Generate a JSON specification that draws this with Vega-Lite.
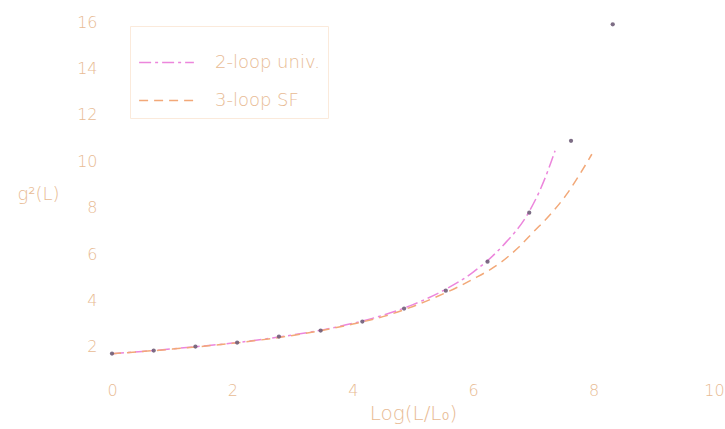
{
  "$schema": "https://vega.github.io/schema/vega-lite/v6.json",
  "width": 602,
  "height": 348,
  "autosize": "none",
  "padding": {"left": 112, "top": 22, "right": 11, "bottom": 59},
  "background": "white",
  "config": {
    "view": {"stroke": null},
    "font": "DejaVu Sans",
    "axis": {
      "grid": false,
      "domain": false,
      "ticks": false,
      "labelFlush": false,
      "labelColor": "#e8bb94",
      "labelFontSize": 16,
      "labelFont": "DejaVu Sans",
      "labelFontWeight": 200,
      "titleColor": "#e8bb94",
      "titleFont": "DejaVu Sans",
      "titleFontWeight": 200,
      "titleFontSize": 18
    }
  },
  "datasets": {
    "curves": [
      {"series": "2-loop univ.", "x": 0.0, "y": 1.70},
      {"series": "2-loop univ.", "x": 0.5, "y": 1.80},
      {"series": "2-loop univ.", "x": 1.0, "y": 1.91},
      {"series": "2-loop univ.", "x": 1.5, "y": 2.03},
      {"series": "2-loop univ.", "x": 2.0, "y": 2.16},
      {"series": "2-loop univ.", "x": 2.5, "y": 2.32},
      {"series": "2-loop univ.", "x": 3.0, "y": 2.51},
      {"series": "2-loop univ.", "x": 3.5, "y": 2.73},
      {"series": "2-loop univ.", "x": 4.0, "y": 3.01},
      {"series": "2-loop univ.", "x": 4.5, "y": 3.36},
      {"series": "2-loop univ.", "x": 5.0, "y": 3.82},
      {"series": "2-loop univ.", "x": 5.5, "y": 4.42},
      {"series": "2-loop univ.", "x": 6.0, "y": 5.22},
      {"series": "2-loop univ.", "x": 6.5, "y": 6.38},
      {"series": "2-loop univ.", "x": 6.9, "y": 7.70},
      {"series": "2-loop univ.", "x": 7.1, "y": 8.70},
      {"series": "2-loop univ.", "x": 7.25, "y": 9.65},
      {"series": "2-loop univ.", "x": 7.36, "y": 10.45},
      {"series": "3-loop SF", "x": 0.0, "y": 1.70},
      {"series": "3-loop SF", "x": 1.0, "y": 1.90},
      {"series": "3-loop SF", "x": 2.0, "y": 2.15},
      {"series": "3-loop SF", "x": 3.0, "y": 2.49},
      {"series": "3-loop SF", "x": 4.0, "y": 2.98},
      {"series": "3-loop SF", "x": 4.5, "y": 3.30},
      {"series": "3-loop SF", "x": 5.0, "y": 3.74},
      {"series": "3-loop SF", "x": 5.5, "y": 4.28},
      {"series": "3-loop SF", "x": 6.0, "y": 4.92},
      {"series": "3-loop SF", "x": 6.45, "y": 5.62},
      {"series": "3-loop SF", "x": 6.75, "y": 6.28},
      {"series": "3-loop SF", "x": 7.0, "y": 6.95},
      {"series": "3-loop SF", "x": 7.28, "y": 7.70},
      {"series": "3-loop SF", "x": 7.56, "y": 8.60},
      {"series": "3-loop SF", "x": 7.75, "y": 9.35},
      {"series": "3-loop SF", "x": 7.97, "y": 10.30}
    ],
    "points": [
      {"x": 0.0, "y": 1.71},
      {"x": 0.693, "y": 1.84},
      {"x": 1.386, "y": 2.01},
      {"x": 2.079, "y": 2.18},
      {"x": 2.773, "y": 2.44},
      {"x": 3.466, "y": 2.70},
      {"x": 4.159, "y": 3.09},
      {"x": 4.852, "y": 3.65},
      {"x": 5.545, "y": 4.42},
      {"x": 6.238, "y": 5.67},
      {"x": 6.931, "y": 7.78},
      {"x": 7.625, "y": 10.88},
      {"x": 8.318, "y": 15.90}
    ]
  },
  "layer": [
    {
      "data": {"name": "curves"},
      "mark": {"type": "line", "interpolate": "monotone", "strokeWidth": 1.5},
      "encoding": {
        "x": {
          "field": "x", "type": "quantitative",
          "scale": {"domain": [0, 10], "nice": false},
          "axis": {"values": [0, 2, 4, 6, 8, 10], "format": "d", "labelPadding": 12, "title": "Log(L/L₀)", "titleFontSize": 20, "titlePadding": 5}
        },
        "y": {
          "field": "y", "type": "quantitative",
          "scale": {"domain": [1, 16], "nice": false, "zero": false},
          "axis": {
            "values": [2, 4, 6, 8, 10, 12, 14, 16],
            "format": "d",
            "labelPadding": 15,
            "title": "g²(L)",
            "titleAngle": 0,
            "titleAlign": "center",
            "titleBaseline": "middle",
            "titleX": -74,
            "titleY": 172
          }
        },
        "color": {
          "field": "series", "type": "nominal",
          "scale": {"domain": ["2-loop univ.", "3-loop SF"], "range": ["#ec86dc", "#f2a878"]},
          "legend": {
            "title": null,
            "orient": "none",
            "legendX": 18,
            "legendY": 4,
            "symbolType": "stroke",
            "symbolSize": 3000,
            "symbolStrokeWidth": 1.5,
            "labelColor": "#e8bb94",
            "labelFontSize": 18,
            "labelFont": "DejaVu Sans",
            "labelFontWeight": 200,
            "labelOffset": 20,
            "rowPadding": -1,
            "padding": 8,
            "strokeColor": "#fbeadb",
            "fillColor": "white"
          }
        },
        "strokeDash": {
          "field": "series", "type": "nominal",
          "scale": {"domain": ["2-loop univ.", "3-loop SF"], "range": [[12, 4, 3, 4], [9, 6]]},
          "legend": null
        }
      }
    },
    {
      "data": {"name": "points"},
      "mark": {"type": "point", "filled": true, "size": 18, "color": "#6f5d78", "opacity": 0.9},
      "encoding": {
        "x": {"field": "x", "type": "quantitative"},
        "y": {"field": "y", "type": "quantitative"}
      }
    }
  ]
}
